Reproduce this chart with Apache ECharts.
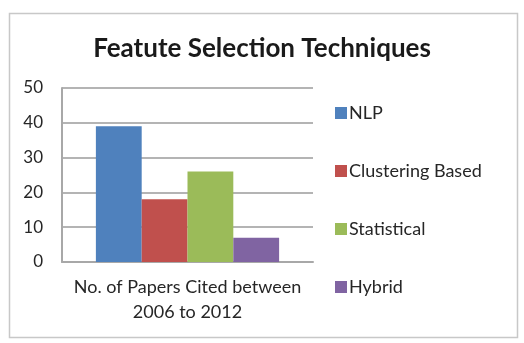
<!DOCTYPE html>
<html>
<head>
<meta charset="utf-8">
<script src="https://cdn.jsdelivr.net/npm/echarts@6/dist/echarts.min.js"></script>
<style>
  html, body { margin: 0; padding: 0; background: #ffffff; }
  #chart { width: 524px; height: 343px; }
</style>
</head>
<body>
<div id="chart"></div>
<script>
// Papers cited per feature selection technique (2006–2012)
const categories = ['No. of Papers Cited between\n2006 to 2012'];
const seriesNames = ['NLP', 'Clustering Based', 'Statistical', 'Hybrid'];
const nlpValues = [39];
const clusteringValues = [18];
const statisticalValues = [26];
const hybridValues = [7];
const yTicks = [0, 10, 20, 30, 40, 50];

const colors = ['#4F81BD', '#C0504D', '#9BBB59', '#8064A2'];
const valueSets = [nlpValues, clusteringValues, statisticalValues, hybridValues];
const fontFamily = 'Lato, "Open Sans", sans-serif';
const textColor = '#262626';

const chart = echarts.init(document.getElementById('chart'), null, { renderer: 'canvas' });

chart.setOption({
  animation: false,
  backgroundColor: '#ffffff',
  color: colors,
  graphic: [{
    type: 'rect',
    shape: { x: 9.5, y: 13.5, width: 508, height: 324 },
    style: { fill: 'none', stroke: '#c8c8c8', lineWidth: 1.5 },
    silent: true
  }],
  title: {
    text: 'Featute Selection Techniques',
    left: 'center',
    top: 31,
    textStyle: { fontFamily, fontSize: 26, fontWeight: 'bold', color: '#1a1a1a' }
  },
  legend: {
    orient: 'vertical',
    left: 330,
    top: 99,
    itemWidth: 12,
    itemHeight: 12,
    itemGap: 40,
    icon: 'rect',
    data: seriesNames,
    textStyle: { fontFamily, fontSize: 18, color: textColor, padding: [0, 0, 0, -3] }
  },
  grid: { left: 62, right: 211, top: 88, bottom: 81, containLabel: false },
  xAxis: {
    type: 'category',
    data: categories,
    axisLine: { show: true, lineStyle: { color: '#a8a8a8', width: 2 } },
    axisTick: { show: false },
    axisLabel: {
      fontFamily, fontSize: 18, color: textColor, margin: 13, lineHeight: 25,
      interval: 0, align: 'center'
    }
  },
  yAxis: {
    type: 'value',
    min: yTicks[0],
    max: yTicks[yTicks.length - 1],
    interval: 10,
    axisLine: { show: true, lineStyle: { color: '#a8a8a8', width: 2 } },
    axisTick: { show: false },
    axisLabel: { fontFamily, fontSize: 17, color: textColor, margin: 19 },
    splitLine: { show: true, lineStyle: { color: '#b4b4b4', width: 2 } }
  },
  series: seriesNames.map((name, i) => ({
    name,
    type: 'bar',
    data: valueSets[i],
    barGap: '0%',
    barCategoryGap: '27%',
    itemStyle: { color: colors[i] }
  }))
});
</script>
</body>
</html>
